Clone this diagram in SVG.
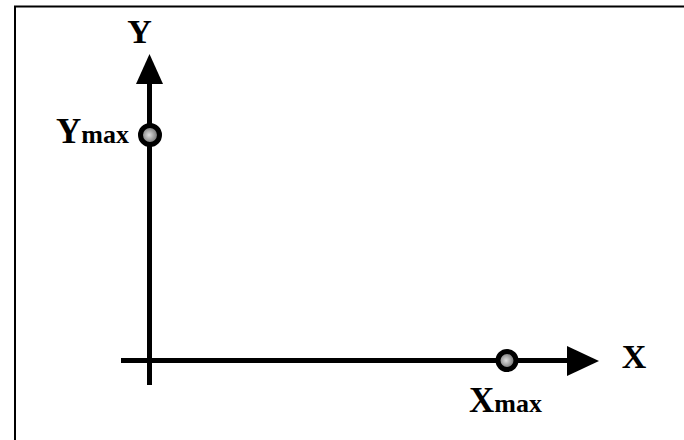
<svg xmlns="http://www.w3.org/2000/svg" width="684" height="440" viewBox="0 0 684 440">
<defs>
<radialGradient id="g" cx="0.45" cy="0.5" r="0.6">
<stop offset="0" stop-color="#e0e0e0"/>
<stop offset="0.6" stop-color="#888"/>
<stop offset="1" stop-color="#333"/>
</radialGradient>
<style>
.lbl{font-family:"Liberation Serif","Times New Roman",serif;font-weight:bold;fill:#000}
.axis{stroke:#000;stroke-width:5;fill:none}
.pt{fill:url(#g);stroke:#000;stroke-width:5}
.frame{stroke:#000;stroke-width:2;fill:none}
</style>
</defs>
<rect width="684" height="440" fill="#fff"/>
<path class="frame" d="M15,441 V6.5 H685"/>
<g id="connectors">
<line class="axis" x1="149.5" y1="385" x2="149.5" y2="80"/>
<polygon points="149.5,54 163,84 136,84" fill="#000"/>
<line class="axis" x1="121" y1="360.5" x2="570" y2="360.5"/>
<polygon points="599,361 567,346 567,376" fill="#000"/>
</g>
<g id="y-label"><text class="lbl" x="139.5" y="43" font-size="34" text-anchor="middle">Y</text></g>
<g id="x-label"><text class="lbl" x="634" y="368" font-size="34" text-anchor="middle">X</text></g>
<g id="ymax"><circle class="pt" cx="150" cy="135" r="9.5"/><text class="lbl" x="56" y="143"><tspan font-size="35">Y</tspan><tspan font-size="26">max</tspan></text></g>
<g id="xmax"><circle class="pt" cx="507" cy="360.5" r="9"/><text class="lbl" x="469" y="412"><tspan font-size="35">X</tspan><tspan font-size="26">max</tspan></text></g>
</svg>
